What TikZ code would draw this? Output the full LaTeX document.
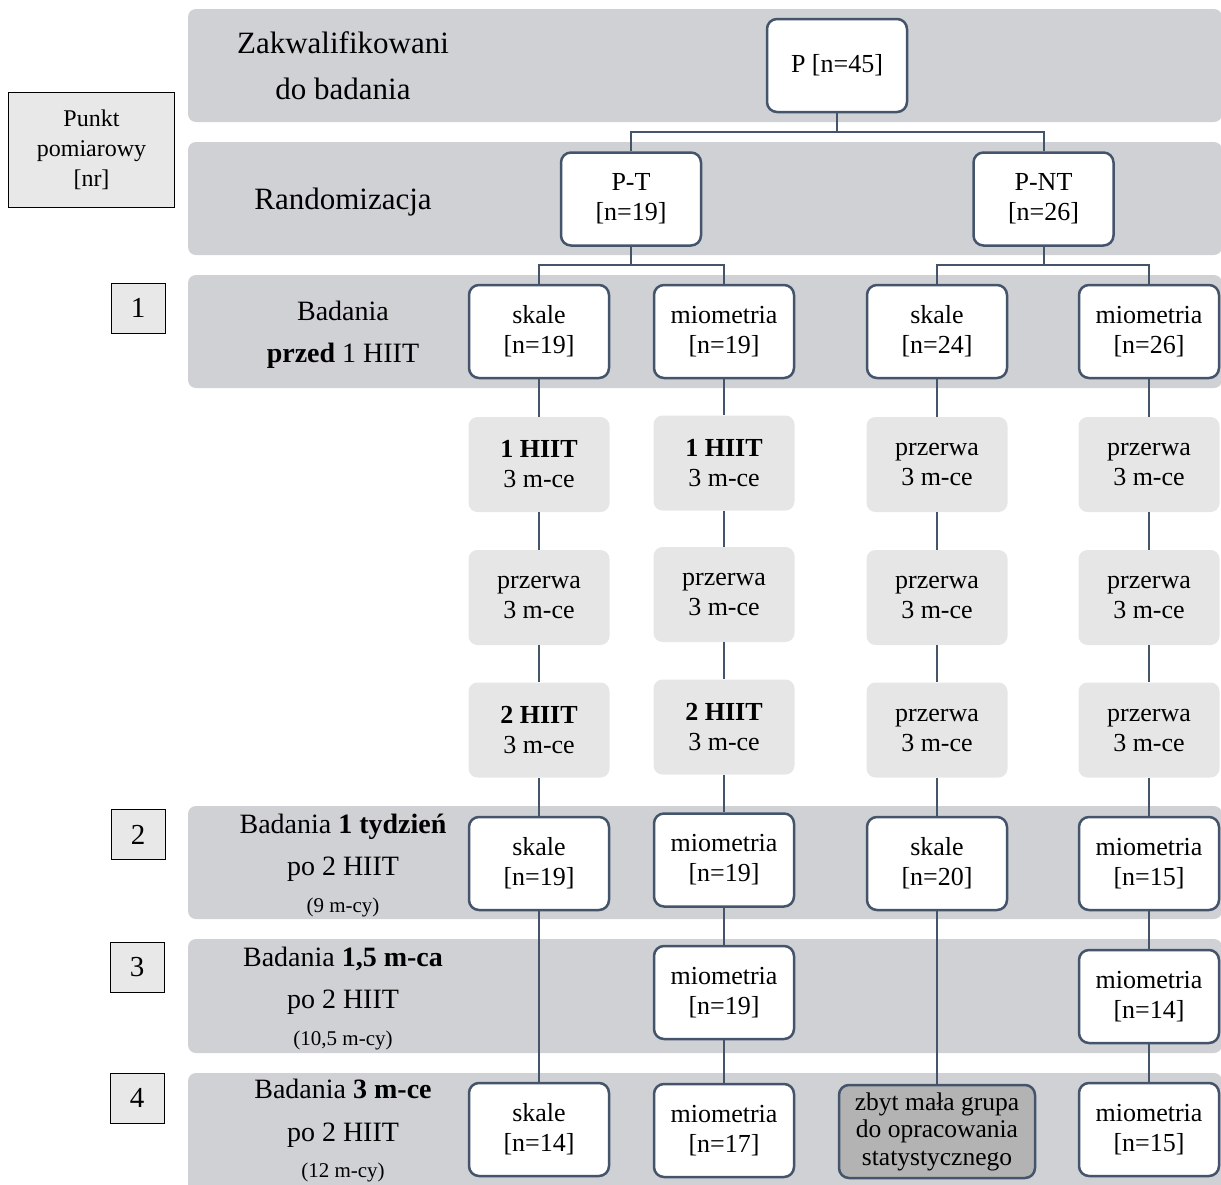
\documentclass[tikz,border=0pt]{standalone}
\usepackage{fontspec}
\setmainfont{Liberation Serif}
\definecolor{bandgray}{HTML}{D0D1D5}
\definecolor{lightbox}{HTML}{E6E6E6}
\definecolor{edge}{HTML}{44546A}
\definecolor{darkbox}{HTML}{B3B3B3}
\definecolor{punktfill}{HTML}{E8E8E8}
\begin{document}
\begin{tikzpicture}[x=1pt,y=-1pt,
 band/.style={fill=bandgray, rounded corners=8pt},
 wbox/.style={draw=edge, line width=2.5pt, fill=white, rounded corners=10pt, minimum width=140pt, minimum height=93pt, inner sep=0pt, align=center, font=\fontsize{26}{30}\selectfont},
 lbox/.style={fill=lightbox, rounded corners=9pt, minimum width=141pt, minimum height=95pt, inner sep=0pt, align=center, font=\fontsize{26}{30}\selectfont},
 dbox/.style={wbox, fill=darkbox, minimum width=196pt, font=\fontsize{25.5}{27.5}\selectfont},
 numbox/.style={draw=black, line width=1pt, fill=punktfill, minimum width=54pt, minimum height=50pt, inner sep=0pt, font=\fontsize{29}{30}\selectfont},
 lab/.style={anchor=base, font=\fontsize{28}{30}\selectfont},
 biglab/.style={anchor=base, font=\fontsize{31}{34}\selectfont},
 smalllab/.style={anchor=base, font=\fontsize{21}{24}\selectfont},
 conn/.style={draw=edge, line width=2pt}]
\useasboundingbox (0,0) rectangle (1221,1184);
% bands
\fill[band] (188,9) rectangle (1222,122);
\fill[band] (188,142) rectangle (1222,255);
\fill[band] (188,275) rectangle (1222,388);
\fill[band] (188,806) rectangle (1222,919);
\fill[band] (188,939) rectangle (1222,1053);
\fill[band] (188,1073) rectangle (1222,1195);
% left markers
\node[numbox, minimum width=166pt, minimum height=115pt, align=center, font=\fontsize{24}{30}\selectfont] (punkt) at (91.5,149.5) {Punkt\\pomiarowy\\{[nr]}};
\node[numbox] (m1) at (138,308) {1};
\node[numbox] (m2) at (138,834.5) {2};
\node[numbox] (m3) at (137,967) {3};
\node[numbox] (m4) at (137,1098) {4};
% band labels
\node[biglab] (t1a) at (343,53) {Zakwalifikowani};
\node[biglab] (t1b) at (343,99) {do badania};
\node[biglab] (t2) at (343,209) {Randomizacja};
\node[lab] (t3a) at (343,320) {Badania};
\node[lab] (t3b) at (343,362) {\textbf{przed} 1 HIIT};
\node[lab] (t4a) at (343,833) {Badania \textbf{1 tydzień}};
\node[lab] (t4b) at (343,875) {po 2 HIIT};
\node[smalllab] (t4c) at (343,912) {(9 m-cy)};
\node[lab] (t5a) at (343,966) {Badania \textbf{1,5 m-ca}};
\node[lab] (t5b) at (343,1008) {po 2 HIIT};
\node[smalllab] (t5c) at (343,1045) {(10,5 m-cy)};
\node[lab] (t6a) at (343,1098) {Badania \textbf{3 m-ce}};
\node[lab] (t6b) at (343,1141) {po 2 HIIT};
\node[smalllab] (t6c) at (343,1177) {(12 m-cy)};
% top tree
\node[wbox] (P) at (837,65.5) {P [n=45]};
\node[wbox] (PT) at (631,199) {P-T\\{[n=19]}};
\node[wbox] (PNT) at (1043.5,199) {P-NT\\{[n=26]}};
% row 1
\node[wbox] (a1) at (539,331.5) {skale\\{[n=19]}};
\node[wbox] (a2) at (724,331.5) {miometria\\{[n=19]}};
\node[wbox] (a3) at (937,331.5) {skale\\{[n=24]}};
\node[wbox] (a4) at (1149,331.5) {miometria\\{[n=26]}};
% periods
\node[lbox] (l11) at (539,464.5) {\textbf{1 HIIT}\\3 m-ce};
\node[lbox] (l12) at (539,597.5) {przerwa\\3 m-ce};
\node[lbox] (l13) at (539,730) {\textbf{2 HIIT}\\3 m-ce};
\node[lbox] (l21) at (724,463) {\textbf{1 HIIT}\\3 m-ce};
\node[lbox] (l22) at (724,594.5) {przerwa\\3 m-ce};
\node[lbox] (l23) at (724,727) {\textbf{2 HIIT}\\3 m-ce};
\node[lbox] (l31) at (937,464.5) {przerwa\\3 m-ce};
\node[lbox] (l32) at (937,597.5) {przerwa\\3 m-ce};
\node[lbox] (l33) at (937,730) {przerwa\\3 m-ce};
\node[lbox] (l41) at (1149,464.5) {przerwa\\3 m-ce};
\node[lbox] (l42) at (1149,597.5) {przerwa\\3 m-ce};
\node[lbox] (l43) at (1149,730) {przerwa\\3 m-ce};
% row 2
\node[wbox] (b1) at (539,863.5) {skale\\{[n=19]}};
\node[wbox] (b2) at (724,860) {miometria\\{[n=19]}};
\node[wbox] (b3) at (937,863.5) {skale\\{[n=20]}};
\node[wbox] (b4) at (1149,863.5) {miometria\\{[n=15]}};
% row 3
\node[wbox] (c2) at (724,992.5) {miometria\\{[n=19]}};
\node[wbox] (c4) at (1149,996.5) {miometria\\{[n=14]}};
% row 4
\node[wbox] (d1) at (539,1129.5) {skale\\{[n=14]}};
\node[wbox] (d2) at (724,1130.5) {miometria\\{[n=17]}};
\node[dbox] (d3) at (937,1131.5) {zbyt mała grupa\\do opracowania\\statystycznego};
\node[wbox] (d4) at (1149,1129.5) {miometria\\{[n=15]}};
% connectors
\coordinate (jP) at (837,132);
\coordinate (jT) at (631,265);
\coordinate (jN) at (1043.5,265);
\draw[conn] (P.south) -- (jP) -| (PT.north);
\draw[conn] (jP) -| (PNT.north);
\draw[conn] (PT.south) -- (jT) -| (a1.north);
\draw[conn] (jT) -| (a2.north);
\draw[conn] (PNT.south) -- (jN) -| (a3.north);
\draw[conn] (jN) -| (a4.north);
\draw[conn] (a1.south) -- (l11.north) (l11.south) -- (l12.north) (l12.south) -- (l13.north) (l13.south) -- (b1.north) (b1.south) -- (d1.north);
\draw[conn] (a2.south) -- (l21.north) (l21.south) -- (l22.north) (l22.south) -- (l23.north) (l23.south) -- (b2.north) (b2.south) -- (c2.north) (c2.south) -- (d2.north);
\draw[conn] (a3.south) -- (l31.north) (l31.south) -- (l32.north) (l32.south) -- (l33.north) (l33.south) -- (b3.north) (b3.south) -- (d3.north);
\draw[conn] (a4.south) -- (l41.north) (l41.south) -- (l42.north) (l42.south) -- (l43.north) (l43.south) -- (b4.north) (b4.south) -- (c4.north) (c4.south) -- (d4.north);
\end{tikzpicture}
\end{document}
